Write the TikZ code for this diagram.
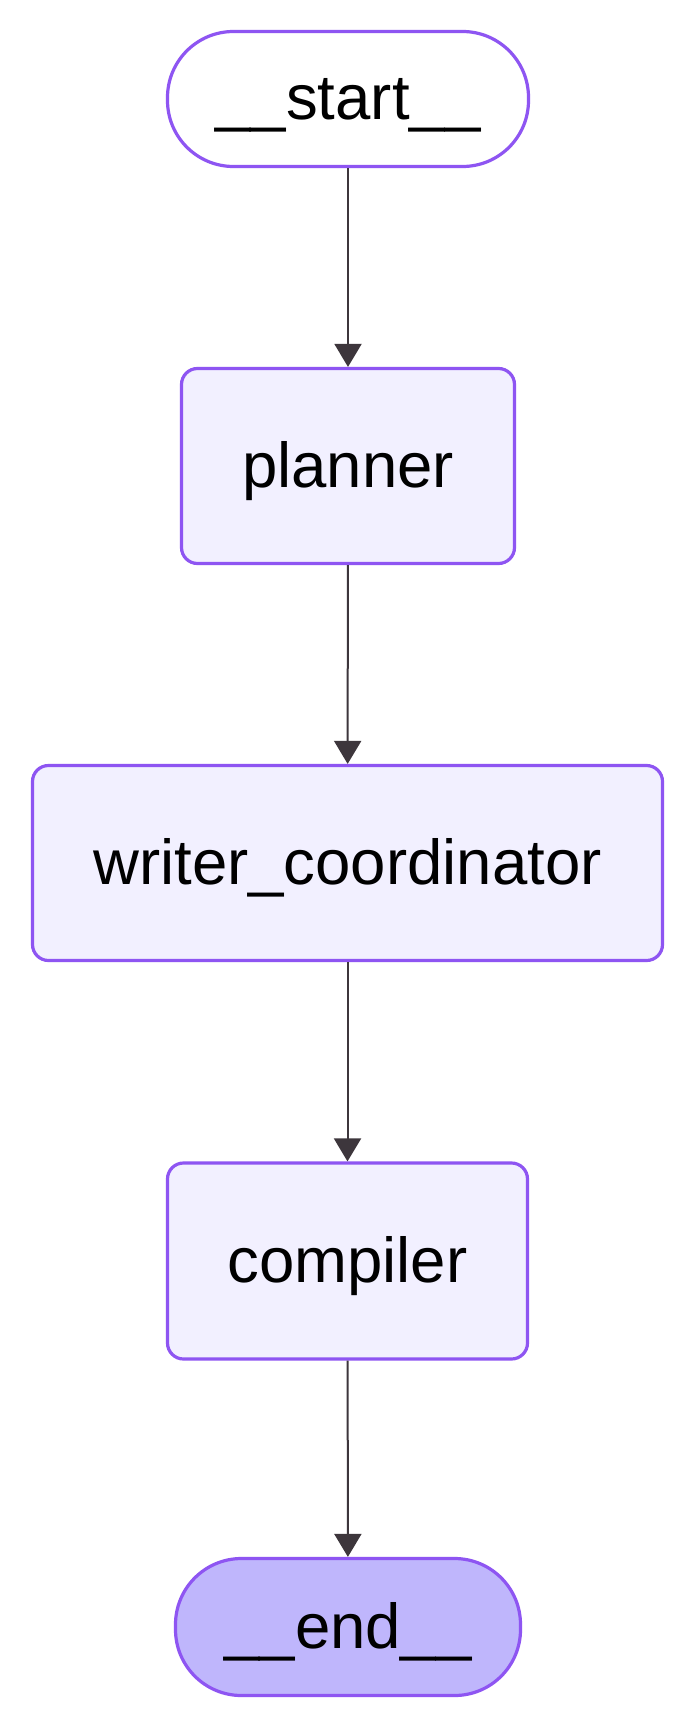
\documentclass[tikz,border=0pt]{standalone}
\usepackage{fontspec}
\setmainfont{Liberation Sans}
\usetikzlibrary{arrows.meta}
\definecolor{bordercol}{HTML}{8E55F2}
\definecolor{boxfill}{HTML}{F2F0FF}
\definecolor{endfill}{HTML}{BFB6FC}
\definecolor{edgecol}{HTML}{3D363C}
\begin{document}
\begin{tikzpicture}[x=1pt,y=-1pt,
  base/.style={draw=bordercol, line width=3.2pt, text=black,
    font=\fontsize{63.5}{76}\selectfont, text height=48pt, text depth=6pt,
    inner sep=0pt},
  procbox/.style={base, fill=boxfill, rounded corners=16pt},
  termbox/.style={base, rounded corners=66pt},
  edge/.style={draw=edgecol, line width=2pt,
    -{Triangle[length=23pt,width=27pt]}}]
\useasboundingbox (0,0) rectangle (696,1728);
\fill[white] (0,0) rectangle (696,1728);
\node[termbox, fill=white, minimum width=361pt, minimum height=135pt] (start) at (348,99) {\_\_start\_\_};
\node[procbox, minimum width=333pt, minimum height=195pt] (planner) at (348,466) {planner};
\node[procbox, minimum width=630pt, minimum height=195pt] (writer) at (347.5,863) {writer\_coordinator};
\node[procbox, minimum width=360pt, minimum height=196pt] (compiler) at (347.5,1261) {compiler};
\node[termbox, fill=endfill, minimum width=345pt, minimum height=137pt] (end) at (348,1627) {\_\_end\_\_};
\draw[edge] (start) -- (planner);
\draw[edge] (planner) -- (writer);
\draw[edge] (writer) -- (compiler);
\draw[edge] (compiler) -- (end);
\end{tikzpicture}
\end{document}
